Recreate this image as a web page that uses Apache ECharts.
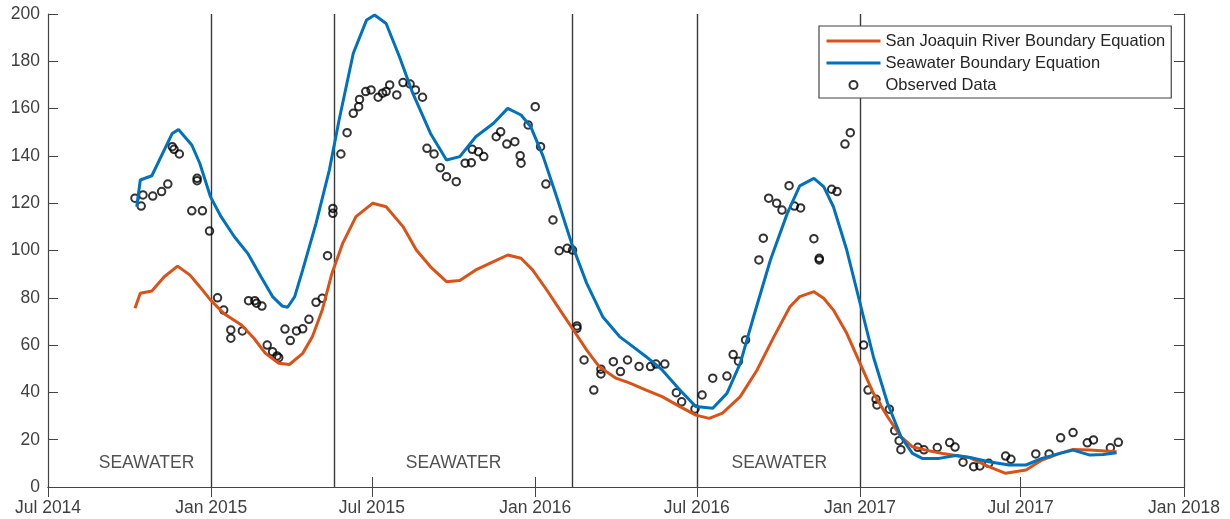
<!DOCTYPE html>
<html>
<head>
<meta charset="utf-8">
<title>Boundary equations vs observed data</title>
<script src="https://cdn.jsdelivr.net/npm/echarts@6/dist/echarts.min.js"></script>
<style>
  html, body { margin: 0; padding: 0; background: #fff; }
  #chart { width: 1230px; height: 519px; }
</style>
</head>
<body>
<div id="chart"></div>
<script>
// values, [date, value]
const sanJoaquinLine = [
	['2014-10-07', 75.6], ['2014-10-13', 81.9], ['2014-10-26', 82.9], ['2014-11-09', 88.9],
	['2014-11-24', 93.4], ['2014-12-08', 89.6], ['2014-12-19', 84.7], ['2014-12-31', 79.1],
	['2015-01-15', 73.4], ['2015-02-04', 68.5], ['2015-02-18', 62.9], ['2015-03-03', 56.5],
	['2015-03-18', 52.3], ['2015-03-30', 51.8], ['2015-04-14', 56.5], ['2015-04-25', 63.6],
	['2015-05-06', 74.8], ['2015-05-17', 90.4], ['2015-05-29', 103], ['2015-06-13', 114.3],
	['2015-07-02', 120], ['2015-07-17', 118.5], ['2015-08-05', 110.1], ['2015-08-20', 100.2],
	['2015-09-05', 93.1], ['2015-09-23', 86.8], ['2015-10-08', 87.3], ['2015-10-26', 91.8],
	['2015-11-15', 95.3], ['2015-12-01', 98.1], ['2015-12-16', 96.7], ['2015-12-29', 91.8],
	['2016-01-14', 83.3], ['2016-01-29', 74.8], ['2016-02-13', 66.4], ['2016-02-28', 57.9],
	['2016-03-13', 50.9], ['2016-04-01', 46], ['2016-04-16', 44], ['2016-05-05', 41],
	['2016-05-23', 38.2], ['2016-06-12', 34], ['2016-06-30', 30.4], ['2016-07-15', 29],
	['2016-07-30', 31.2], ['2016-08-19', 38.2], ['2016-09-07', 49.5], ['2016-09-26', 63.6],
	['2016-10-14', 76.2], ['2016-10-25', 80.5], ['2016-11-10', 82.6], ['2016-11-21', 79.8],
	['2016-12-02', 74.8], ['2016-12-17', 65], ['2017-01-01', 52.3], ['2017-01-16', 39.6],
	['2017-02-01', 29.7], ['2017-02-16', 21.3], ['2017-03-01', 17], ['2017-03-16', 15.6],
	['2017-04-04', 14.2], ['2017-05-04', 12.5], ['2017-05-26', 8.6], ['2017-06-14', 5.8],
	['2017-07-07', 7.2], ['2017-07-25', 11.4], ['2017-08-14', 14.2], ['2017-08-29', 15.9],
	['2017-09-17', 15.6], ['2017-10-17', 14.9]
];

const seawaterLine = [
	['2014-10-09', 118.5], ['2014-10-13', 129.8], ['2014-10-26', 131.6], ['2014-11-18', 149.5],
	['2014-11-25', 151.2], ['2014-12-10', 144.6], ['2014-12-19', 136.9], ['2014-12-31', 122.8],
	['2015-01-12', 114.3], ['2015-01-27', 105.8], ['2015-02-11', 98.8], ['2015-02-26', 88.9],
	['2015-03-11', 80.5], ['2015-03-22', 76.5], ['2015-03-28', 76], ['2015-04-05', 80.5],
	['2015-04-14', 91.8], ['2015-04-29', 111.5], ['2015-05-14', 134], ['2015-05-25', 155.2],
	['2015-06-10', 183.4], ['2015-06-25', 197.5], ['2015-07-04', 199.6], ['2015-07-17', 196],
	['2015-08-01', 181.9], ['2015-08-16', 166.5], ['2015-09-05', 149.5], ['2015-09-23', 138.3],
	['2015-10-08', 139.7], ['2015-10-26', 148.1], ['2015-11-15', 153.8], ['2015-12-01', 160.1],
	['2015-12-16', 157.3], ['2015-12-27', 152.3], ['2016-01-10', 139.7], ['2016-01-25', 122.8],
	['2016-02-11', 103], ['2016-02-28', 86.1], ['2016-03-17', 72], ['2016-04-05', 63.6],
	['2016-04-16', 60.5], ['2016-05-05', 55.1], ['2016-05-23', 49.5], ['2016-06-12', 41],
	['2016-06-30', 34], ['2016-07-19', 33.3], ['2016-08-04', 39.6], ['2016-08-19', 52.3],
	['2016-09-03', 72], ['2016-09-22', 96], ['2016-10-11', 115.7], ['2016-10-25', 127.3],
	['2016-11-10', 130.5], ['2016-11-21', 127], ['2016-12-02', 118.5], ['2016-12-17', 100.2],
	['2017-01-01', 77.7], ['2017-01-16', 55.1], ['2017-02-01', 35.4], ['2017-02-16', 21.3],
	['2017-03-01', 14.2], ['2017-03-12', 12.1], ['2017-03-31', 12.1], ['2017-04-19', 13.3],
	['2017-05-05', 12.5], ['2017-05-26', 10.7], ['2017-06-18', 9.3], ['2017-07-07', 9.3],
	['2017-07-25', 12.1], ['2017-08-14', 14.2], ['2017-08-29', 15.6], ['2017-09-17', 13.5],
	['2017-10-02', 13.7], ['2017-10-17', 14.5]
];

const observed = [
	['2014-10-07', 122.1], ['2014-10-14', 118.8], ['2014-10-16', 123.5], ['2014-10-27', 123],
	['2014-11-06', 124.9], ['2014-11-13', 128.1], ['2014-11-18', 143.9], ['2014-11-20', 142.8],
	['2014-11-26', 140.8], ['2014-12-10', 116.8], ['2014-12-16', 130.5], ['2014-12-16', 129.5],
	['2014-12-22', 116.8], ['2014-12-30', 108.2], ['2015-01-08', 80], ['2015-01-15', 74.8],
	['2015-01-23', 66.4], ['2015-01-23', 62.9], ['2015-02-05', 66], ['2015-02-12', 78.8],
	['2015-02-19', 78.8], ['2015-02-21', 77.7], ['2015-02-27', 76.5], ['2015-03-05', 60],
	['2015-03-11', 57.2], ['2015-03-16', 55.4], ['2015-03-18', 54.7], ['2015-03-25', 66.8],
	['2015-03-31', 61.9], ['2015-04-07', 66], ['2015-04-14', 66.9], ['2015-04-21', 70.9],
	['2015-04-29', 78.1], ['2015-05-06', 79.8], ['2015-05-12', 97.8], ['2015-05-18', 117.8],
	['2015-05-18', 115.7], ['2015-05-27', 140.8], ['2015-06-03', 149.8], ['2015-06-10', 158],
	['2015-06-16', 160.8], ['2015-06-17', 163.9], ['2015-06-24', 167.2], ['2015-06-30', 167.9],
	['2015-07-08', 164.8], ['2015-07-13', 166.5], ['2015-07-17', 167.2], ['2015-07-21', 170],
	['2015-07-29', 165.8], ['2015-08-05', 171], ['2015-08-13', 170.4], ['2015-08-19', 167.9],
	['2015-08-27', 164.8], ['2015-09-01', 143.2], ['2015-09-09', 140.8], ['2015-09-16', 135],
	['2015-09-23', 131.2], ['2015-10-04', 129.1], ['2015-10-14', 136.9], ['2015-10-21', 137.1],
	['2015-10-22', 142.8], ['2015-10-29', 141.8], ['2015-11-04', 139.7], ['2015-11-18', 148.1],
	['2015-11-23', 150.2], ['2015-11-30', 145], ['2015-12-09', 146], ['2015-12-15', 140.1],
	['2015-12-16', 136.9], ['2015-12-24', 153.1], ['2016-01-01', 160.8], ['2016-01-07', 143.9],
	['2016-01-13', 128.1], ['2016-01-21', 112.9], ['2016-01-28', 99.9], ['2016-02-06', 100.9],
	['2016-02-12', 100.2], ['2016-02-17', 67.1], ['2016-02-17', 68.1], ['2016-02-25', 53.7],
	['2016-03-07', 41], ['2016-03-15', 49.8], ['2016-03-15', 47.8], ['2016-03-29', 53],
	['2016-04-06', 48.8], ['2016-04-14', 53.7], ['2016-04-27', 51], ['2016-05-10', 50.9],
	['2016-05-16', 52], ['2016-05-26', 52], ['2016-06-08', 39.9], ['2016-06-14', 36],
	['2016-06-29', 33], ['2016-07-07', 38.9], ['2016-07-19', 46], ['2016-08-04', 46.9],
	['2016-08-11', 56], ['2016-08-17', 53.2], ['2016-08-25', 62.2], ['2016-09-09', 96],
	['2016-09-14', 105.2], ['2016-09-20', 122.1], ['2016-09-29', 120], ['2016-10-05', 117.1],
	['2016-10-13', 127.4], ['2016-10-19', 118.8], ['2016-10-26', 118], ['2016-11-10', 105],
	['2016-11-16', 96.7], ['2016-11-16', 96], ['2016-11-30', 125.9], ['2016-12-06', 124.9],
	['2016-12-15', 145], ['2016-12-21', 149.8], ['2017-01-05', 60], ['2017-01-10', 41],
	['2017-01-19', 37.1], ['2017-01-20', 34.7], ['2017-02-03', 32.9], ['2017-02-09', 23.8],
	['2017-02-14', 19.6], ['2017-02-16', 15.8], ['2017-03-07', 16.8], ['2017-03-14', 15.7],
	['2017-03-29', 16.7], ['2017-04-12', 18.8], ['2017-04-18', 16.9], ['2017-04-27', 10.5],
	['2017-05-09', 8.6], ['2017-05-16', 8.9], ['2017-05-26', 10], ['2017-06-14', 13.1],
	['2017-06-20', 11.7], ['2017-07-18', 14], ['2017-08-02', 14], ['2017-08-15', 20.8],
	['2017-08-29', 23], ['2017-09-14', 18.7], ['2017-09-21', 19.9], ['2017-10-10', 16.6],
	['2017-10-19', 18.9]
];

const boundaryDates = ['2015-01-01', '2015-05-20', '2016-02-12', '2016-07-01', '2017-01-01'];
const periodLabels = [['2014-10-20', 10, 'SEAWATER'], ['2015-10-01', 10, 'SEAWATER'], ['2016-10-02', 10, 'SEAWATER']];
const xTicks = ['2014-07-01', '2015-01-01', '2015-07-01', '2016-01-01', '2016-07-01', '2017-01-01', '2017-07-01', '2018-01-01'];
const monthNames = ['Jan', 'Feb', 'Mar', 'Apr', 'May', 'Jun', 'Jul', 'Aug', 'Sep', 'Oct', 'Nov', 'Dec'];

function toTime(s) {
	const p = s.split('-');
	return new Date(+p[0], +p[1] - 1, +p[2]).getTime();
}
function pts(list) {
	return list.map(d => [toTime(d[0]), d[1]]);
}

const font = "'Liberation Sans', Arial, Helvetica, sans-serif";
const axisCol = '#444';
const tickTimes = xTicks.map(toTime);
const xMin = tickTimes[0];
const xMax = tickTimes[tickTimes.length - 1];

const chart = echarts.init(document.getElementById('chart'));
chart.setOption({
	animation: false,
	backgroundColor: '#fff',
	grid: { left: 48, right: 46, top: 14, bottom: 32 },
	legend: {
		orient: 'vertical',
		left: 819,
		top: 26,
		z: 20,
		padding: [6, 6, 4, 6],
		itemGap: 4,
		itemWidth: 54,
		itemHeight: 8,
		borderColor: '#444',
		borderWidth: 1.2,
		backgroundColor: '#fff',
		data: [
			{ name: 'San Joaquin River Boundary Equation', itemStyle: { opacity: 0 }, lineStyle: { width: 3 } },
			{ name: 'Seawater Boundary Equation', itemStyle: { opacity: 0 }, lineStyle: { width: 3 } },
			{ name: 'Observed Data' }
		],
		textStyle: { fontFamily: font, fontSize: 16.5, color: '#262626', lineHeight: 18 }
	},
	xAxis: [{
		type: 'value',
		min: xMin,
		max: xMax,
		axisLine: { lineStyle: { color: axisCol, width: 1.2 } },
		axisTick: { inside: true, length: 10, customValues: tickTimes, lineStyle: { color: axisCol } },
		axisLabel: {
			customValues: tickTimes,
			showMinLabel: true,
			showMaxLabel: true,
			margin: 12,
			fontFamily: font,
			fontSize: 17.5,
			color: '#404040',
			formatter: v => {
				const d = new Date(v);
				return monthNames[d.getMonth()] + ' ' + d.getFullYear();
			}
		},
		splitLine: { show: false }
	}, {
		type: 'value',
		position: 'top',
		min: xMin,
		max: xMax,
		axisLine: { show: true, lineStyle: { color: axisCol, width: 1.2 } },
		axisTick: { show: true, inside: true, length: 10, customValues: tickTimes, lineStyle: { color: axisCol } },
		axisLabel: { show: false },
		splitLine: { show: false }
	}],
	yAxis: [{
		type: 'value',
		min: 0,
		max: 200,
		interval: 20,
		axisLine: { show: true, lineStyle: { color: axisCol, width: 1.2 } },
		axisTick: { show: true, inside: true, length: 10, lineStyle: { color: axisCol } },
		axisLabel: { margin: 8, fontFamily: font, fontSize: 17.5, color: '#404040' },
		splitLine: { show: false }
	}, {
		type: 'value',
		position: 'right',
		min: 0,
		max: 200,
		interval: 20,
		axisLine: { show: true, lineStyle: { color: axisCol, width: 1.2 } },
		axisTick: { show: true, inside: true, length: 10, lineStyle: { color: axisCol } },
		axisLabel: { show: false },
		splitLine: { show: false }
	}],
	series: [{
		name: 'periods',
		type: 'scatter',
		z: 1,
		symbolSize: 1,
		itemStyle: { color: 'rgba(0,0,0,0)' },
		silent: true,
		data: periodLabels.map(d => ({ value: [toTime(d[0]), d[1]], label: { formatter: d[2] } })),
		label: {
			show: true,
			position: 'inside',
			fontFamily: font,
			fontSize: 17.5,
			color: '#262626'
		},
		markLine: {
			silent: true,
			z: 1,
			symbol: ['none', 'none'],
			label: { show: false },
			lineStyle: { color: '#3a3a3a', width: 1.4, type: 'solid' },
			data: boundaryDates.map(d => ({ xAxis: toTime(d) }))
		}
	}, {
		name: 'San Joaquin River Boundary Equation',
		type: 'line',
		symbol: 'none',
		color: '#D95319',
		lineStyle: { width: 3, color: '#D95319' },
		data: pts(sanJoaquinLine)
	}, {
		name: 'Seawater Boundary Equation',
		type: 'line',
		symbol: 'none',
		color: '#0072BD',
		lineStyle: { width: 3, color: '#0072BD' },
		data: pts(seawaterLine)
	}, {
		name: 'Observed Data',
		type: 'scatter',
		symbol: 'circle',
		symbolSize: 7.5,
		itemStyle: { color: 'rgba(255,255,255,0)', borderColor: '#000', borderWidth: 2 },
		data: pts(observed)
	}]
});
</script>
</body>
</html>
